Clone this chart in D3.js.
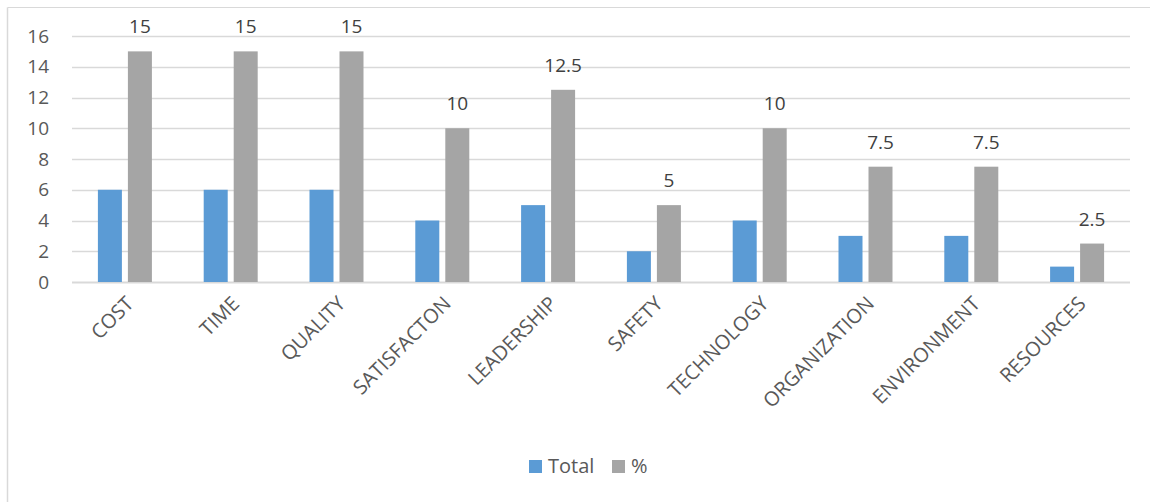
<!DOCTYPE html>
<html>
<head>
<meta charset="utf-8">
<script src="https://cdn.jsdelivr.net/npm/d3@7"></script>
<style>
  html, body { margin: 0; padding: 0; background: #fff; }
  svg { display: block; font-family: "Open Sans", "Noto Sans", sans-serif; }
</style>
</head>
<body>
<svg id="chart" width="1150" height="502"></svg>
<script>
// Factors and their scores
const categories = ["COST", "TIME", "QUALITY", "SATISFACTON", "LEADERSHIP", "SAFETY",
                    "TECHNOLOGY", "ORGANIZATION", "ENVIRONMENT", "RESOURCES"];
const seriesNames = ["Total", "%"];
const totalValues = [6, 6, 6, 4, 5, 2, 4, 3, 3, 1];
const percentValues = [15, 15, 15, 10, 12.5, 5, 10, 7.5, 7.5, 2.5];
const yTicks = [0, 2, 4, 6, 8, 10, 12, 14, 16];
const colors = ["#5B9BD5", "#A5A5A5"];

const svg = d3.select("#chart");
const textColor = "#595959";
const gridColor = "#D9D9D9";

// Outer frame (top and left edges visible)
svg.append("line").attr("x1", 7.5).attr("x2", 1150).attr("y1", 7.5).attr("y2", 7.5)
  .attr("stroke", gridColor).attr("stroke-width", 1);
svg.append("line").attr("x1", 7.5).attr("x2", 7.5).attr("y1", 7.5).attr("y2", 502)
  .attr("stroke", gridColor).attr("stroke-width", 1.5);

const plot = { left: 72, right: 1130, top: 36, bottom: 282 };

const x0 = d3.scaleBand().domain(categories).range([plot.left, plot.right]).padding(0);
const groupWidth = 54;
const x1 = d3.scaleBand().domain(seriesNames).range([0, groupWidth]).paddingInner(0.2).paddingOuter(0);
const y = d3.scaleLinear().domain([0, 16]).range([plot.bottom, plot.top]);

// Gridlines
svg.append("g").selectAll("line").data(yTicks).join("line")
  .attr("x1", plot.left).attr("x2", plot.right)
  .attr("y1", d => Math.round(y(d)) + 0.5).attr("y2", d => Math.round(y(d)) + 0.5)
  .attr("stroke", gridColor).attr("stroke-width", d => d === 0 ? 2 : 1.5);

// Y axis labels
const yAxis = d3.axisLeft(y).tickValues(yTicks).tickSize(0).tickPadding(0);
const yG = svg.append("g").attr("transform", `translate(49,0)`).call(yAxis);
yG.select(".domain").remove();
yG.selectAll("text").attr("fill", textColor).style("font-size", "19px")
  .attr("font-family", "Open Sans, sans-serif");

// Bars
const data = categories.map((c, i) => ({ cat: c, values: [totalValues[i], percentValues[i]] }));
const groups = svg.append("g").selectAll("g").data(data).join("g")
  .attr("transform", d => `translate(${x0(d.cat) + (x0.bandwidth() - groupWidth) / 2},0)`);

groups.selectAll("rect").data(d => d.values.map((v, j) => ({ key: seriesNames[j], v, j })))
  .join("rect")
  .attr("x", d => x1(d.key))
  .attr("width", x1.bandwidth())
  .attr("y", d => y(d.v))
  .attr("height", d => y(0) - y(d.v))
  .attr("fill", d => colors[d.j]);

// Data labels on the % series
groups.append("text")
  .attr("x", x1("%") + x1.bandwidth() / 2)
  .attr("y", d => y(d.values[1]) - 18)
  .attr("text-anchor", "middle")
  .attr("fill", "#404040")
  .style("font-size", "19px")
  .text(d => d.values[1]);

// Category labels, rotated
const xAxis = d3.axisBottom(x0).tickSize(0).tickPadding(0);
const xG = svg.append("g").attr("transform", `translate(0,${plot.bottom})`).call(xAxis);
xG.select(".domain").remove();
xG.selectAll("text")
  .attr("fill", textColor)
  .style("font-size", "20px")
  .attr("font-family", "Open Sans, sans-serif")
  .attr("text-anchor", "end")
  .attr("transform", "translate(5,18) rotate(-45)")
  .attr("x", 0).attr("y", 0).attr("dy", "0.35em");

// Legend
const legendItems = [
  { name: "Total", color: colors[0], x: 529 },
  { name: "%", color: colors[1], x: 612 }
];
const legend = svg.append("g");
legendItems.forEach(item => {
  legend.append("rect").attr("x", item.x).attr("y", 460).attr("width", 13).attr("height", 13)
    .attr("fill", item.color);
  legend.append("text").attr("x", item.x + 19).attr("y", 473)
    .attr("fill", textColor).style("font-size", "20px").text(item.name);
});
</script>
</body>
</html>
